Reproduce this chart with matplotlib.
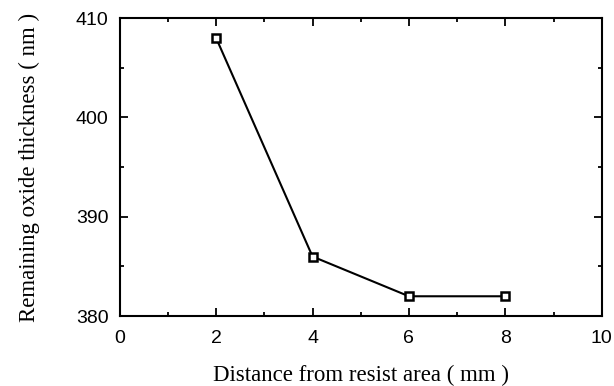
import matplotlib
matplotlib.use("Agg")
from matplotlib import pyplot as plt
from matplotlib.ticker import MultipleLocator

# data
distance = [2, 4, 6, 8]
thickness = [408, 386, 382, 382]

fig = plt.figure(figsize=(6.14, 3.86), dpi=100)
ax = fig.add_axes([0.195, 0.181, 0.785, 0.772])

ax.plot(distance, thickness, c='black', lw=1.5, marker='s', markersize=5.5,
        mfc='white', mec='black', mew=1.8)

ax.set_xlim(0, 10)
ax.set_ylim(380, 410)
ax.xaxis.set_major_locator(MultipleLocator(2))
ax.xaxis.set_minor_locator(MultipleLocator(1))
ax.yaxis.set_major_locator(MultipleLocator(10))
ax.yaxis.set_minor_locator(MultipleLocator(5))
ax.tick_params(which='both', direction='in', top=True, right=True, width=1.3)
ax.tick_params(which='major', length=6, labelsize=14)
ax.tick_params(axis='x', which='major', pad=10)
ax.tick_params(axis='y', which='major', pad=8)
ax.tick_params(which='minor', length=3)
for lab in ax.get_xticklabels() + ax.get_yticklabels():
    lab.set_family('Liberation Sans')
for s in ax.spines.values():
    s.set_linewidth(1.5)

ax.set_xlabel('Distance from resist area ( mm )', family='Liberation Serif',
              fontsize=16.5, labelpad=13)
ax.set_ylabel('Remaining oxide thickness ( nm )', family='Liberation Serif',
              fontsize=16.5, labelpad=26)

fig.savefig('out.png', dpi=100)
